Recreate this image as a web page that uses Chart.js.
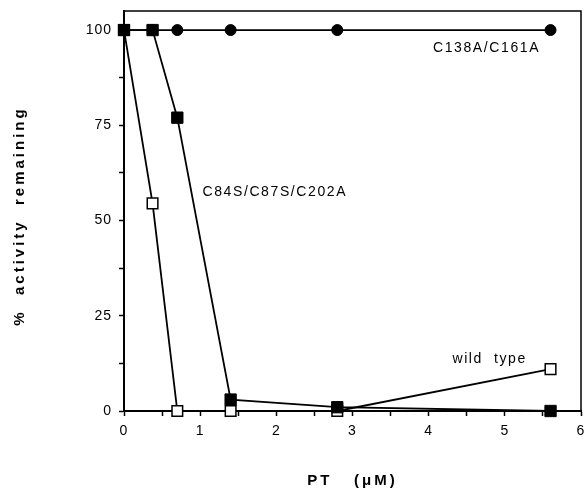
<!DOCTYPE html>
<html>
<head>
<meta charset="utf-8">
<script src="https://cdn.jsdelivr.net/npm/chart.js@4/dist/chart.umd.min.js"></script>
<style>
  html, body { margin: 0; padding: 0; background: #fff; }
  #wrap { width: 586px; height: 493px; }
</style>
</head>
<body>
<div id="wrap"><canvas id="myChart" width="586" height="493"></canvas></div>
<script>
// PT concentrations (uM)
const doses = [0, 0.375, 0.7, 1.4, 2.8, 5.6];
// % activity remaining for each mutant
const c138a = [100, 100, 100, 100, 100, 100];
const c84s = [100, 100, 77, 3, 1, 0];
const wildType = [100, 54.5, 0, 0, 0, 11];

const yTicks = [0, 12.5, 25, 37.5, 50, 62.5, 75, 87.5, 100];
const xTicks = [0, 0.5, 1, 1.5, 2, 2.5, 3, 3.5, 4, 4.5, 5, 5.5, 6];

// text notes placed in data units
const notes = [
    { text: 'C138A/C161A', x: 4.76, y: 95.3 },
    { text: 'C84S/C87S/C202A', x: 1.98, y: 57.5 },
    { text: 'wild  type', x: 4.8, y: 13.6 }
];

const fontFam = '"Liberation Sans", Arial, Helvetica, sans-serif';

function toPoints(vals) {
    return doses.map((d, i) => ({ x: d, y: vals[i] }));
}

const extras = {
    id: 'extras',
    beforeDraw(chart) {
        chart.ctx.letterSpacing = '1px';
    },
    afterDraw(chart) {
        const ctx = chart.ctx;
        const a = chart.chartArea;
        const xs = chart.scales.x, ys = chart.scales.y;
        ctx.save();
        // frame top + right
        ctx.strokeStyle = '#000';
        ctx.lineWidth = 1.5;
        ctx.beginPath();
        ctx.moveTo(a.left, a.top);
        ctx.lineTo(a.right, a.top);
        ctx.lineTo(a.right, a.bottom);
        ctx.stroke();

        ctx.fillStyle = '#000';
        ctx.textAlign = 'center';
        ctx.textBaseline = 'middle';
        ctx.letterSpacing = '1.6px';
        ctx.font = '14px ' + fontFam;
        notes.forEach(n => {
            ctx.fillText(n.text, xs.getPixelForValue(n.x), ys.getPixelForValue(n.y));
        });

        // axis titles
        ctx.letterSpacing = '3px';
        ctx.font = 'bold 15px ' + fontFam;
        ctx.fillText('PT   (\u03bcM)', (a.left + a.right) / 2, 481);
        ctx.save();
        ctx.translate(20, 216);
        ctx.rotate(-Math.PI / 2);
        ctx.fillText('%  activity  remaining', 0, 0);
        ctx.restore();
        ctx.restore();
    }
};

const ctx = document.getElementById('myChart').getContext('2d');
const chart = new Chart(ctx, {
    type: 'line',
    data: {
        datasets: [
            {
                label: 'C84S/C87S/C202A',
                data: toPoints(c84s),
                borderColor: '#000',
                borderWidth: 1.8,
                pointStyle: 'rect',
                pointRadius: 8,
                pointBackgroundColor: '#000',
                pointBorderColor: '#000',
                pointBorderWidth: 1,
                clip: false
            },
            {
                label: 'wild type',
                data: toPoints(wildType),
                borderColor: '#000',
                borderWidth: 1.8,
                pointStyle: 'rect',
                pointRadius: 7.5,
                pointBackgroundColor: '#fff',
                pointBorderColor: '#000',
                pointBorderWidth: 1.5,
                clip: false
            },
            {
                label: 'C138A/C161A',
                data: toPoints(c138a),
                borderColor: '#000',
                borderWidth: 1.8,
                pointStyle: 'circle',
                pointRadius: 5.5,
                pointBackgroundColor: '#000',
                pointBorderColor: '#000',
                pointBorderWidth: 1,
                clip: false
            }
        ]
    },
    options: {
        responsive: false,
        animation: false,
        layout: { autoPadding: false, padding: { top: 11, right: 5, left: 0, bottom: 0 } },
        elements: { line: { tension: 0 } },
        plugins: {
            legend: { display: false },
            tooltip: { enabled: false }
        },
        scales: {
            x: {
                type: 'linear',
                min: 0,
                max: 6,
                afterBuildTicks: s => { s.ticks = xTicks.map(v => ({ value: v })); },
                afterFit: s => { s.height = 82; s.paddingLeft = 0; s.paddingRight = 0; },
                border: { display: true, color: '#000', width: 2 },
                grid: { drawOnChartArea: false, drawTicks: true, tickLength: 5, tickColor: '#000', tickWidth: 1.5 },
                ticks: {
                    color: '#000',
                    padding: 7,
                    maxRotation: 0,
                    autoSkip: false,
                    font: { family: fontFam, size: 14 },
                    callback: v => (Number.isInteger(v) ? v : '')
                }
            },
            y: {
                type: 'linear',
                min: 0,
                max: 105,
                afterBuildTicks: s => { s.ticks = yTicks.map(v => ({ value: v })); },
                afterFit: s => { s.width = 124; s.paddingTop = 0; s.paddingBottom = 0; },
                border: { display: true, color: '#000', width: 2 },
                grid: { drawOnChartArea: false, drawTicks: true, tickLength: 5, tickColor: '#000', tickWidth: 1.5 },
                ticks: {
                    color: '#000',
                    padding: 7,
                    autoSkip: false,
                    font: { family: fontFam, size: 14 },
                    callback: v => (v % 25 === 0 ? v : '')
                }
            }
        }
    },
    plugins: [extras]
});
</script>
</body>
</html>
